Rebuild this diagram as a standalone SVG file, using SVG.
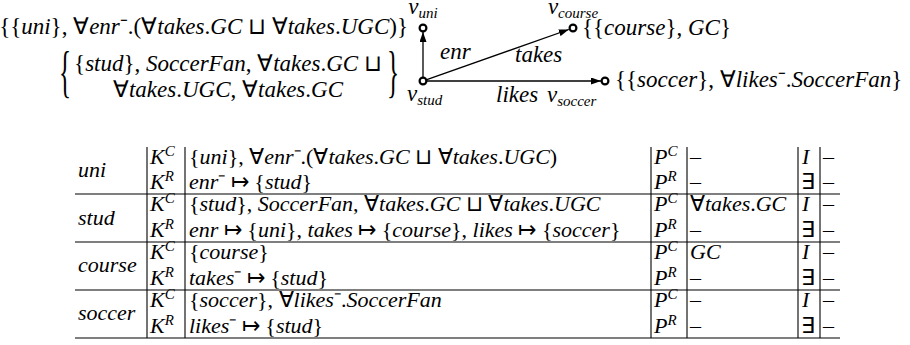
<svg xmlns="http://www.w3.org/2000/svg" id="diagram" width="910" height="345" viewBox="0 0 910 345">
<style>
#diagram text, #diagram tspan { font-family: 'Liberation Serif', serif !important; }
</style>
<defs>
<marker id="arr" markerWidth="10" markerHeight="7" refX="10" refY="3.5" orient="auto" markerUnits="userSpaceOnUse">
<path d="M0,0 L10,3.5 L0,7 z" fill="#000"/>
</marker>
</defs>
<rect width="910" height="345" fill="#fff"/>

<g id="connectors">
<g stroke="#000" stroke-width="1.3" fill="none" marker-end="url(#arr)">
<line x1="423" y1="77" x2="423" y2="32"/>
<line x1="426.8" y1="79.7" x2="568.8" y2="29.5"/>
<line x1="427" y1="81" x2="601" y2="81"/>
</g>
<text x="440" y="59" style="font-family:'Liberation Serif',serif !important" font-style="italic" font-size="23">enr</text>
<text x="515" y="62" style="font-family:'Liberation Serif',serif !important" font-style="italic" font-size="23">takes</text>
<text x="496" y="102" style="font-family:'Liberation Serif',serif !important" font-style="italic" font-size="23">likes</text>
</g>

<g id="nodes">
<g id="node-uni">
<circle cx="423" cy="28" r="3.4" fill="#fff" stroke="#000" stroke-width="2.2"/>
<text x="423" y="14" text-anchor="middle" style="font-family:'Liberation Serif',serif !important" font-style="italic" font-size="23">v<tspan font-size="15" dy="4">uni</tspan></text>
<text x="408" y="34" text-anchor="end" style="font-family:'Liberation Serif',serif !important" font-style="italic" font-size="23"><tspan font-style="normal">{{</tspan>uni<tspan font-style="normal">}, ∀</tspan>enr<tspan font-style="normal">⁻.(∀</tspan>takes<tspan font-style="normal">.</tspan>GC<tspan font-style="normal"> ⊔ ∀</tspan>takes<tspan font-style="normal">.</tspan>UGC<tspan font-style="normal">)}</tspan></text>
</g>

<g id="node-course">
<circle cx="573" cy="28" r="3.4" fill="#fff" stroke="#000" stroke-width="2.2"/>
<text x="573" y="14" text-anchor="middle" style="font-family:'Liberation Serif',serif !important" font-style="italic" font-size="23">v<tspan font-size="15" dy="4">course</tspan></text>
<text x="582" y="35" style="font-family:'Liberation Serif',serif !important" font-style="italic" font-size="23"><tspan font-style="normal">{{</tspan>course<tspan font-style="normal">}, </tspan>GC<tspan font-style="normal">}</tspan></text>
</g>

<g id="node-stud">
<circle cx="423" cy="81" r="3.4" fill="#fff" stroke="#000" stroke-width="2.2"/>
<text x="407" y="101" style="font-family:'Liberation Serif',serif !important" font-style="italic" font-size="23">v<tspan font-size="15" dy="4">stud</tspan></text>
<text transform="translate(59,91) scale(0.45,1)" style="font-family:'Liberation Serif',serif !important" font-style="normal" font-size="56">{</text>
<text x="228" y="71" text-anchor="middle" style="font-family:'Liberation Serif',serif !important" font-style="italic" font-size="23"><tspan font-style="normal">{</tspan>stud<tspan font-style="normal">}, </tspan>SoccerFan<tspan font-style="normal">, ∀</tspan>takes<tspan font-style="normal">.</tspan>GC<tspan font-style="normal"> ⊔</tspan></text>
<text x="228" y="97" text-anchor="middle" style="font-family:'Liberation Serif',serif !important" font-style="italic" font-size="23"><tspan font-style="normal">∀</tspan>takes<tspan font-style="normal">.</tspan>UGC<tspan font-style="normal">, ∀</tspan>takes<tspan font-style="normal">.</tspan>GC</text>
<text transform="translate(387,91) scale(0.45,1)" style="font-family:'Liberation Serif',serif !important" font-style="normal" font-size="56">}</text>
</g>

<g id="node-soccer">
<circle cx="605" cy="81" r="3.4" fill="#fff" stroke="#000" stroke-width="2.2"/>
<text x="547" y="102" style="font-family:'Liberation Serif',serif !important" font-style="italic" font-size="23">v<tspan font-size="15" dy="4">soccer</tspan></text>
<text x="615" y="87" style="font-family:'Liberation Serif',serif !important" font-style="italic" font-size="23"><tspan font-style="normal">{{</tspan>soccer<tspan font-style="normal">}, ∀</tspan>likes<tspan font-style="normal">⁻.</tspan>SoccerFan<tspan font-style="normal">}</tspan></text>
</g>
</g>

<g id="table">
<g id="table-rules" stroke="#000" stroke-width="1.1">
<line x1="75" y1="194" x2="840" y2="194"/>
<line x1="75" y1="242" x2="840" y2="242"/>
<line x1="75" y1="290" x2="840" y2="290"/>
<line x1="75" y1="338" x2="840" y2="338"/>
<line x1="147" y1="147" x2="147" y2="338"/>
<line x1="185" y1="147" x2="185" y2="338"/>
<line x1="651" y1="147" x2="651" y2="338"/>
<line x1="687" y1="147" x2="687" y2="338"/>
<line x1="798" y1="147" x2="798" y2="338"/>
<line x1="820" y1="147" x2="820" y2="338"/>
</g>

<g id="row-uni">
<text x="78" y="177" style="font-family:'Liberation Serif',serif !important" font-style="italic" font-size="22">uni</text>
<text x="150" y="164" style="font-family:'Liberation Serif',serif !important" font-style="italic" font-size="22">K<tspan font-size="15" dy="-8">C</tspan></text>
<text x="150" y="189" style="font-family:'Liberation Serif',serif !important" font-style="italic" font-size="22">K<tspan font-size="15" dy="-8">R</tspan></text>
<text x="189" y="164" style="font-family:'Liberation Serif',serif !important" font-style="italic" font-size="22"><tspan font-style="normal">{</tspan>uni<tspan font-style="normal">}, ∀</tspan>enr<tspan font-style="normal">⁻.(∀</tspan>takes<tspan font-style="normal">.</tspan>GC<tspan font-style="normal"> ⊔ ∀</tspan>takes<tspan font-style="normal">.</tspan>UGC<tspan font-style="normal">)</tspan></text>
<text x="189" y="189" style="font-family:'Liberation Serif',serif !important" font-style="italic" font-size="22">enr<tspan font-style="normal">⁻ ↦ {</tspan>stud<tspan font-style="normal">}</tspan></text>
<text x="654" y="164" style="font-family:'Liberation Serif',serif !important" font-style="italic" font-size="22">P<tspan font-size="15" dy="-8">C</tspan></text>
<text x="654" y="189" style="font-family:'Liberation Serif',serif !important" font-style="italic" font-size="22">P<tspan font-size="15" dy="-8">R</tspan></text>
<text x="690" y="164" style="font-family:'Liberation Serif',serif !important" font-size="22">–</text>
<text x="690" y="189" style="font-family:'Liberation Serif',serif !important" font-size="22">–</text>
<text x="802" y="164" style="font-family:'Liberation Serif',serif !important" font-style="italic" font-size="22">I</text>
<text x="801" y="189" style="font-family:'Liberation Serif',serif !important" font-size="22">∃</text>
<text x="823" y="164" style="font-family:'Liberation Serif',serif !important" font-size="22">–</text>
<text x="823" y="189" style="font-family:'Liberation Serif',serif !important" font-size="22">–</text>
</g>

<g id="row-stud">
<text x="78" y="225" style="font-family:'Liberation Serif',serif !important" font-style="italic" font-size="22">stud</text>
<text x="150" y="211" style="font-family:'Liberation Serif',serif !important" font-style="italic" font-size="22">K<tspan font-size="15" dy="-8">C</tspan></text>
<text x="150" y="237" style="font-family:'Liberation Serif',serif !important" font-style="italic" font-size="22">K<tspan font-size="15" dy="-8">R</tspan></text>
<text x="189" y="211" style="font-family:'Liberation Serif',serif !important" font-style="italic" font-size="22"><tspan font-style="normal">{</tspan>stud<tspan font-style="normal">}, </tspan>SoccerFan<tspan font-style="normal">, ∀</tspan>takes<tspan font-style="normal">.</tspan>GC<tspan font-style="normal"> ⊔ ∀</tspan>takes<tspan font-style="normal">.</tspan>UGC</text>
<text x="189" y="237" style="font-family:'Liberation Serif',serif !important" font-style="italic" font-size="22">enr<tspan font-style="normal"> ↦ {</tspan>uni<tspan font-style="normal">}, </tspan>takes<tspan font-style="normal"> ↦ {</tspan>course<tspan font-style="normal">}, </tspan>likes<tspan font-style="normal"> ↦ {</tspan>soccer<tspan font-style="normal">}</tspan></text>
<text x="654" y="211" style="font-family:'Liberation Serif',serif !important" font-style="italic" font-size="22">P<tspan font-size="15" dy="-8">C</tspan></text>
<text x="654" y="237" style="font-family:'Liberation Serif',serif !important" font-style="italic" font-size="22">P<tspan font-size="15" dy="-8">R</tspan></text>
<text x="690" y="211" style="font-family:'Liberation Serif',serif !important" font-style="italic" font-size="22"><tspan font-style="normal">∀</tspan>takes<tspan font-style="normal">.</tspan>GC</text>
<text x="690" y="237" style="font-family:'Liberation Serif',serif !important" font-size="22">–</text>
<text x="802" y="211" style="font-family:'Liberation Serif',serif !important" font-style="italic" font-size="22">I</text>
<text x="801" y="237" style="font-family:'Liberation Serif',serif !important" font-size="22">∃</text>
<text x="823" y="211" style="font-family:'Liberation Serif',serif !important" font-size="22">–</text>
<text x="823" y="237" style="font-family:'Liberation Serif',serif !important" font-size="22">–</text>
</g>

<g id="row-course">
<text x="78" y="272" style="font-family:'Liberation Serif',serif !important" font-style="italic" font-size="22">course</text>
<text x="150" y="259" style="font-family:'Liberation Serif',serif !important" font-style="italic" font-size="22">K<tspan font-size="15" dy="-8">C</tspan></text>
<text x="150" y="285" style="font-family:'Liberation Serif',serif !important" font-style="italic" font-size="22">K<tspan font-size="15" dy="-8">R</tspan></text>
<text x="189" y="259" style="font-family:'Liberation Serif',serif !important" font-style="italic" font-size="22"><tspan font-style="normal">{</tspan>course<tspan font-style="normal">}</tspan></text>
<text x="189" y="285" style="font-family:'Liberation Serif',serif !important" font-style="italic" font-size="22">takes<tspan font-style="normal">⁻ ↦ {</tspan>stud<tspan font-style="normal">}</tspan></text>
<text x="654" y="259" style="font-family:'Liberation Serif',serif !important" font-style="italic" font-size="22">P<tspan font-size="15" dy="-8">C</tspan></text>
<text x="654" y="285" style="font-family:'Liberation Serif',serif !important" font-style="italic" font-size="22">P<tspan font-size="15" dy="-8">R</tspan></text>
<text x="690" y="259" style="font-family:'Liberation Serif',serif !important" font-style="italic" font-size="22">GC</text>
<text x="690" y="285" style="font-family:'Liberation Serif',serif !important" font-size="22">–</text>
<text x="802" y="259" style="font-family:'Liberation Serif',serif !important" font-style="italic" font-size="22">I</text>
<text x="801" y="285" style="font-family:'Liberation Serif',serif !important" font-size="22">∃</text>
<text x="823" y="259" style="font-family:'Liberation Serif',serif !important" font-size="22">–</text>
<text x="823" y="285" style="font-family:'Liberation Serif',serif !important" font-size="22">–</text>
</g>

<g id="row-soccer">
<text x="78" y="320" style="font-family:'Liberation Serif',serif !important" font-style="italic" font-size="22">soccer</text>
<text x="150" y="307" style="font-family:'Liberation Serif',serif !important" font-style="italic" font-size="22">K<tspan font-size="15" dy="-8">C</tspan></text>
<text x="150" y="333" style="font-family:'Liberation Serif',serif !important" font-style="italic" font-size="22">K<tspan font-size="15" dy="-8">R</tspan></text>
<text x="189" y="307" style="font-family:'Liberation Serif',serif !important" font-style="italic" font-size="22"><tspan font-style="normal">{</tspan>soccer<tspan font-style="normal">}, ∀</tspan>likes<tspan font-style="normal">⁻.</tspan>SoccerFan</text>
<text x="189" y="333" style="font-family:'Liberation Serif',serif !important" font-style="italic" font-size="22">likes<tspan font-style="normal">⁻ ↦ {</tspan>stud<tspan font-style="normal">}</tspan></text>
<text x="654" y="307" style="font-family:'Liberation Serif',serif !important" font-style="italic" font-size="22">P<tspan font-size="15" dy="-8">C</tspan></text>
<text x="654" y="333" style="font-family:'Liberation Serif',serif !important" font-style="italic" font-size="22">P<tspan font-size="15" dy="-8">R</tspan></text>
<text x="690" y="307" style="font-family:'Liberation Serif',serif !important" font-size="22">–</text>
<text x="690" y="333" style="font-family:'Liberation Serif',serif !important" font-size="22">–</text>
<text x="802" y="307" style="font-family:'Liberation Serif',serif !important" font-style="italic" font-size="22">I</text>
<text x="801" y="333" style="font-family:'Liberation Serif',serif !important" font-size="22">∃</text>
<text x="823" y="307" style="font-family:'Liberation Serif',serif !important" font-size="22">–</text>
<text x="823" y="333" style="font-family:'Liberation Serif',serif !important" font-size="22">–</text>
</g>
</g>
</svg>
